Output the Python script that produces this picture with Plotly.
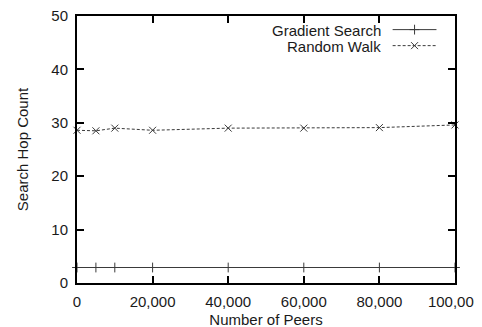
import plotly.graph_objects as go

peers = [0, 5000, 10000, 20000, 40000, 60000, 80000, 100000]
gradient_hops = [2.9, 2.9, 2.9, 2.9, 2.9, 2.9, 2.9, 2.9]
random_walk_hops = [28.6, 28.5, 29.0, 28.6, 29.0, 29.0, 29.1, 29.6]
series_names = ["Gradient Search", "Random Walk"]
x_ticks = [0, 20000, 40000, 60000, 80000, 100000]
x_tick_labels = ["0", "20,000", "40,000", "60,000", "80,000", "100,000"]
y_ticks = [0, 10, 20, 30, 40, 50]

FONT = "Liberation Sans, Arial, Helvetica, sans-serif"
LINE_COL = "#3a3a3a"
TXT_COL = "#1a1a1a"

fig = go.Figure()
fig.add_trace(go.Scatter(
    x=peers, y=gradient_hops, mode="lines+markers", name=series_names[0],
    line=dict(color=LINE_COL, width=1),
    marker=dict(symbol="cross-thin", size=7, line=dict(color=LINE_COL, width=1)),
    cliponaxis=False, showlegend=False))
fig.add_trace(go.Scatter(
    x=peers, y=random_walk_hops, mode="lines+markers", name=series_names[1],
    line=dict(color=LINE_COL, width=1, dash="3px,2px"),
    marker=dict(symbol="x-thin", size=7, line=dict(color=LINE_COL, width=1)),
    cliponaxis=False, showlegend=False))

# manual gnuplot-style legend (text left of sample)
leg_y = [0.949, 0.889]
leg_dash = ["solid", "3px,2px"]
leg_sym = ["cross-thin", "x-thin"]
for i in range(2):
    fig.add_annotation(x=0.808, y=leg_y[i], xref="paper", yref="paper",
                       text=series_names[i], showarrow=False, xanchor="right",
                       yanchor="middle", height=14, borderpad=0,
                       font=dict(family=FONT, size=15, color=TXT_COL))
    fig.add_shape(type="line", xref="paper", yref="paper", x0=0.835, x1=0.951,
                  y0=leg_y[i], y1=leg_y[i], line=dict(color=LINE_COL, width=1, dash=leg_dash[i]))
    fig.add_trace(go.Scatter(x=[0.893], y=[leg_y[i]], xaxis="x2", yaxis="y2", mode="markers",
                             marker=dict(symbol=leg_sym[i], size=7,
                                         line=dict(color=LINE_COL, width=1)),
                             showlegend=False, hoverinfo="skip", cliponaxis=False))

axis_common = dict(
    showgrid=False, zeroline=False, showline=True, linecolor="black", linewidth=2,
    mirror="allticks", ticks="inside", ticklen=7, tickwidth=1.5, tickcolor="black",
    tickfont=dict(family=FONT, size=15, color=TXT_COL), automargin=False,
    ticklabeloverflow="allow", ticklabelstandoff=4,
)
# page body adds an 8px offset; figure is sized to compensate
fig.update_layout(
    width=474, height=320,
    margin=dict(l=69, r=27, t=8, b=45),
    paper_bgcolor="white", plot_bgcolor="white",
    xaxis=dict(range=[0, 100000], tickvals=x_ticks, ticktext=x_tick_labels,
               title=dict(text="Number of Peers", font=dict(family=FONT, size=15, color=TXT_COL), standoff=12),
               **axis_common),
    yaxis=dict(range=[0, 50], tickvals=y_ticks,
               title=dict(text="Search Hop Count", font=dict(family=FONT, size=15, color=TXT_COL), standoff=19),
               **axis_common),
    xaxis2=dict(range=[0, 1], overlaying="x", visible=False),
    yaxis2=dict(range=[0, 1], overlaying="y", visible=False),
)
fig.write_html("out.html")
